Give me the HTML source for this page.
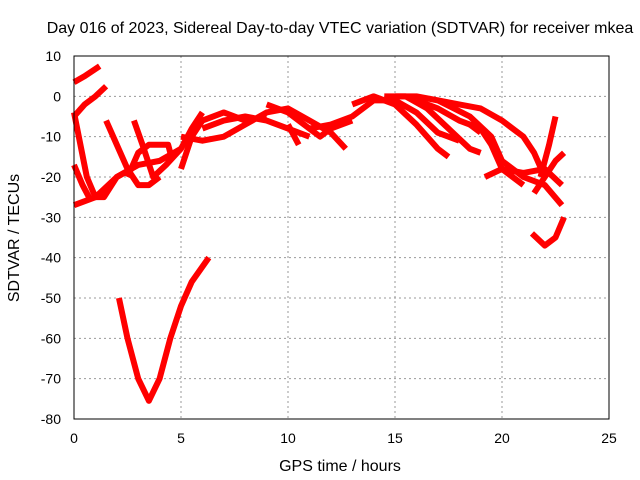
<!DOCTYPE html>
<html><head><meta charset="utf-8"><style>
body{margin:0;background:#fff}
svg{display:block;font-family:"Liberation Sans",sans-serif}
</style></head><body>
<svg id="chart" width="640" height="480" xmlns="http://www.w3.org/2000/svg">
<rect width="640" height="480" fill="#fff"/>
<g id="grid"></g>
<g id="series"></g>
<rect x="74" y="56" width="535" height="363" fill="none" stroke="#000"/>
<g id="ticks"></g>
<text x="340" y="33" text-anchor="middle" font-size="16">Day 016 of 2023, Sidereal Day-to-day VTEC variation (SDTVAR) for receiver mkea</text>
<text x="340" y="471" text-anchor="middle" font-size="16">GPS time / hours</text>
<text transform="translate(19,238) rotate(-90)" text-anchor="middle" font-size="16">SDTVAR / TECUs</text>
</svg>
<script>
const xTicks=[0,5,10,15,20,25];
const yTicks=[10,0,-10,-20,-30,-40,-50,-60,-70,-80];
const tracks=[
[[0,3.5],[0.5,5],[1.2,7.5]],
[[0,-5],[0.5,-2],[1,0],[1.5,2.5]],
[[0,-4],[0.3,-12],[0.6,-20],[1,-25],[1.4,-25],[2,-20],[3,-17],[4,-16],[5,-13]],
[[0,-17],[0.4,-22],[0.8,-26]],
[[0,-27],[1,-25],[2,-20],[3,-17]],
[[1.5,-6],[2,-12],[2.5,-18],[3,-22],[3.5,-22],[4,-20]],
[[2.8,-6],[3.2,-12],[3.7,-20],[4.3,-17],[5,-13],[5.5,-8],[6,-4]],
[[2.5,-20],[3,-14],[3.5,-12],[4.4,-12],[4.5,-14]],
[[2.1,-50],[2.5,-60],[3,-70],[3.5,-75.5],[4,-70],[4.5,-60],[5,-52],[5.5,-46],[6.3,-40]],
[[5,-18],[5.5,-10],[6,-6],[7,-4],[8,-6],[9,-5]],
[[5,-10],[6,-11],[7,-10],[8,-7],[9,-4],[10,-3],[11,-6],[12,-9],[12.7,-13]],
[[6,-8],[7,-6],[8,-5],[9,-6],[10,-8],[11,-10]],
[[9,-2],[10,-4],[11,-8],[11.5,-10],[12,-8],[13,-6]],
[[10,-7],[10.5,-12]],
[[11,-8],[12,-7],[13,-5],[14,-1],[15,-1],[16,-4],[17,-9],[18,-11]],
[[13,-2],[14,0],[15,-2],[16,-7],[17,-13],[17.5,-15]],
[[14.5,0],[15.5,0],[16.5,-3],[17.5,-8],[18.5,-13],[19,-14]],
[[15,0],[16,0],[17,-1],[18.5,-5],[19.5,-10],[20,-16],[21,-20],[22,-22],[22.8,-27]],
[[16,-1],[17,-3],[18,-6],[19,-8],[19.5,-12],[20,-18],[21,-22]],
[[17,-1],[18,-2],[19,-3],[20,-6],[21,-10],[21.5,-14],[22,-20]],
[[19.2,-20],[20,-18],[21,-19],[22,-18],[22.8,-22]],
[[18.5,-7],[19,-9]],
[[21.5,-24],[22,-20],[22.5,-16],[22.9,-14]],
[[21.8,-20],[22.2,-12],[22.5,-5]],
[[21.4,-34],[22,-37],[22.5,-35],[22.9,-30]]
];
const NS="http://www.w3.org/2000/svg";
const X=v=>74+v*(535/25);
const Y=v=>56+(10-v)*(363/90);
const grid=document.getElementById('grid'),ticks=document.getElementById('ticks'),ser=document.getElementById('series');
function mk(t,a,p){const e=document.createElementNS(NS,t);for(const k in a)e.setAttribute(k,a[k]);p.appendChild(e);return e;}
xTicks.forEach(v=>{
 if(v>0&&v<25){const g=mk('line',{x1:X(v),x2:X(v),y1:56,y2:419,stroke:'#999','stroke-dasharray':'2,3'},grid);
 }
 const t=mk('text',{x:X(v),y:443,'text-anchor':'middle','font-size':14},ticks);t.textContent=v;
 
 
});
yTicks.forEach(v=>{
 if(v<10&&v>-80){const g=mk('line',{x1:74,x2:609,y1:Y(v),y2:Y(v),stroke:'#999','stroke-dasharray':'2,3'},grid);
 }
 const t=mk('text',{x:61,y:Y(v)+5,'text-anchor':'end','font-size':14},ticks);t.textContent=v;
 
 
});
tracks.forEach(tr=>{
 const p=mk('polyline',{points:tr.map(d=>X(d[0])+','+Y(d[1])).join(' '),fill:'none',stroke:'#f00','stroke-width':6,'stroke-linejoin':'round'},ser);
 
 
});
</script>
</body></html>
